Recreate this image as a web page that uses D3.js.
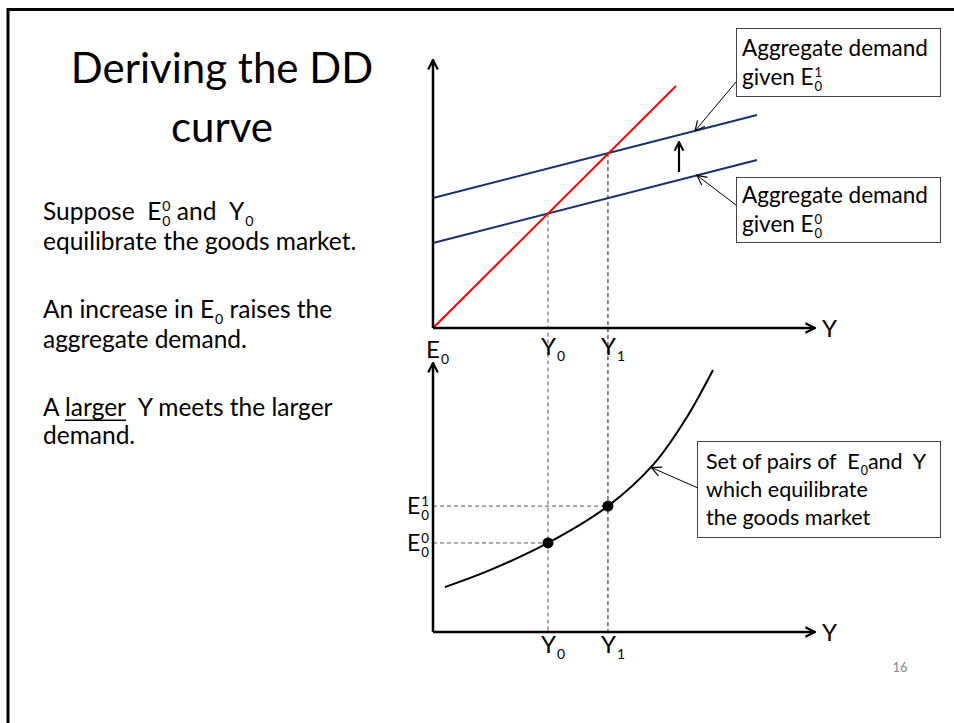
<!DOCTYPE html>
<html>
<head>
<meta charset="utf-8">
<script src="https://cdn.jsdelivr.net/npm/d3@7"></script>
<style>
  body { margin: 0; background: #fff; }
  svg text { font-family: Lato, "Open Sans", sans-serif; fill: #000; white-space: pre; }
</style>
</head>
<body>
<div id="slide"></div>
<script>
// values (axes run 0..100, arrow tips at 100)
const incomeLevels = [30.1, 45.8];            // Y0, Y1
const incomeSubs = ["0", "1"];
const rateLevels = [33.1, 46.8];              // E0^0, E0^1 (bottom panel)
const rateSups = ["0", "1"];
const line45 = [[0, 0], [63.6, 90.3]];
const adLow = [[0, 31.7], [84.8, 62.7]];      // given E0^0
const adHigh = [[0, 48.5], [84.8, 79.5]];     // given E0^1
const ddCurve = [[3.1, 16.7], [14.9, 23.0], [30.1, 33.1], [45.8, 46.8], [57.6, 62.1], [66.0, 78.8], [73.3, 97.4]];
const shiftArrow = { x: 64.4, from: 58.2, to: 69.4 };

const width = 954, height = 723;
const svg = d3.select("#slide").append("svg")
    .attr("width", width)
    .attr("height", height);

const defs = svg.append("defs");
function marker(id, size, sw) {
    defs.append("marker")
        .attr("id", id)
        .attr("viewBox", "0 0 10 10")
        .attr("refX", 9).attr("refY", 5)
        .attr("markerWidth", size).attr("markerHeight", size)
        .attr("markerUnits", "userSpaceOnUse")
        .attr("orient", "auto")
        .append("path")
        .attr("d", "M1,1 L9,5 L1,9")
        .attr("fill", "none")
        .attr("stroke", "#000")
        .attr("stroke-width", sw);
}
marker("axisHead", 12, 1.8);
marker("thinHead", 12, 1);
marker("upHead", 11, 1.8);

// slide frame (only top and left edges fall inside the window)
svg.append("path")
    .attr("d", "M8,730 V9.5 H960")
    .attr("fill", "none")
    .attr("stroke", "#000")
    .attr("stroke-width", 3);

// helper for text with stacked sub/superscripts
function rich(g, x, y, segs, fs, anchor) {
    const grp = g.append("g");
    let cx = 0;
    segs.forEach(function (s) {
        const b = grp.append("text").attr("x", cx).attr("y", 0)
            .style("font-size", fs + "px").text(s.t);
        const bw = b.node().getComputedTextLength();
        if (s.u) {
            grp.append("line").attr("x1", cx).attr("x2", cx + bw)
                .attr("y1", fs * 0.17).attr("y2", fs * 0.17)
                .attr("stroke", "#000").attr("stroke-width", 1.5);
        }
        cx += bw;
        let w = 0;
        if (s.sub != null) {
            const sb = grp.append("text").attr("x", cx + 1).attr("y", fs * 0.26)
                .style("font-size", (fs * 0.58) + "px").text(s.sub);
            w = Math.max(w, sb.node().getComputedTextLength() + 1);
        }
        if (s.sup != null) {
            const sp = grp.append("text").attr("x", cx + 1).attr("y", -fs * 0.36)
                .style("font-size", (fs * 0.58) + "px").text(s.sup);
            w = Math.max(w, sp.node().getComputedTextLength() + 1);
        }
        cx += w;
    });
    let dx = 0;
    if (anchor === "middle") dx = -cx / 2;
    if (anchor === "end") dx = -cx;
    grp.attr("transform", "translate(" + (x + dx) + "," + y + ")");
    return grp;
}

// ---- left column text ----
const titleFs = 42;
svg.append("text").attr("x", 222).attr("y", 83).attr("text-anchor", "middle")
    .style("font-size", titleFs + "px").text("Deriving the DD");
svg.append("text").attr("x", 222).attr("y", 142).attr("text-anchor", "middle")
    .style("font-size", titleFs + "px").text("curve");

const bodyFs = 24.5;
rich(svg, 43, 220, [{ t: "Suppose  " }, { t: "E", sub: "0", sup: "0" }, { t: " and  " }, { t: "Y", sub: "0" }], bodyFs);
rich(svg, 43, 250, [{ t: "equilibrate the goods market." }], bodyFs);
rich(svg, 43, 318, [{ t: "An increase in " }, { t: "E", sub: "0" }, { t: " raises the" }], bodyFs);
rich(svg, 43, 348, [{ t: "aggregate demand." }], bodyFs);
rich(svg, 43, 416, [{ t: "A " }, { t: "larger", u: true }, { t: "  Y meets the larger" }], bodyFs);
rich(svg, 43, 444, [{ t: "demand." }], bodyFs);

// ---- scales ----
const x = d3.scaleLinear().domain([0, 100]).range([433, 815]);
const yTop = d3.scaleLinear().domain([0, 100]).range([328, 60]);
const yBot = d3.scaleLinear().domain([0, 100]).range([632, 363]);

function axes(y) {
    svg.append("line")
        .attr("x1", x(0)).attr("y1", y(0)).attr("x2", x(0)).attr("y2", y(100))
        .attr("stroke", "#000").attr("stroke-width", 2.5)
        .attr("marker-end", "url(#axisHead)");
    svg.append("line")
        .attr("x1", x(0)).attr("y1", y(0)).attr("x2", x(100)).attr("y2", y(0))
        .attr("stroke", "#000").attr("stroke-width", 2.5)
        .attr("marker-end", "url(#axisHead)");
    svg.append("text").attr("x", x(100) + 7).attr("y", y(0) + 9)
        .style("font-size", "24px").text("Y");
}

// intersections of the 45 degree line with the AD lines, at Y0 and Y1
function at(line, v) {
    const a = line[0], b = line[1];
    return a[1] + (b[1] - a[1]) * (v - a[0]) / (b[0] - a[0]);
}
const adLines = [adLow, adHigh];

// dashed guides from the top intersections all the way to the bottom axis
incomeLevels.forEach(function (v, i) {
    svg.append("line")
        .attr("x1", x(v)).attr("x2", x(v))
        .attr("y1", yTop(at(adLines[i], v))).attr("y2", yBot(0))
        .attr("stroke", i === 0 ? "#555" : "#111")
        .attr("stroke-width", 1)
        .attr("stroke-dasharray", "4,3");
});
rateLevels.forEach(function (v, i) {
    svg.append("line")
        .attr("x1", x(0)).attr("x2", x(incomeLevels[i]))
        .attr("y1", yBot(v)).attr("y2", yBot(v))
        .attr("stroke", "#555")
        .attr("stroke-width", 1)
        .attr("stroke-dasharray", "4,3");
});

// ---- top panel ----
const line = d3.line().x(d => x(d[0])).y(d => yTop(d[1]));
svg.append("path").attr("d", line(adLow)).attr("fill", "none")
    .attr("stroke", "#17306b").attr("stroke-width", 2);
svg.append("path").attr("d", line(adHigh)).attr("fill", "none")
    .attr("stroke", "#17306b").attr("stroke-width", 2);
svg.append("path").attr("d", line(line45)).attr("fill", "none")
    .attr("stroke", "#ff0000").attr("stroke-width", 2);
axes(yTop);

svg.append("line")
    .attr("x1", x(shiftArrow.x)).attr("x2", x(shiftArrow.x))
    .attr("y1", yTop(shiftArrow.from)).attr("y2", yTop(shiftArrow.to))
    .attr("stroke", "#000").attr("stroke-width", 2.2)
    .attr("marker-end", "url(#upHead)");

rich(svg, 426, 358, [{ t: "E", sub: "0" }], 24);
incomeLevels.forEach(function (v, i) {
    rich(svg, x(v) - 7, 355, [{ t: "Y", sub: incomeSubs[i] }], 24);
});

// callout boxes
function box(x0, y0, w, h) {
    svg.append("rect").attr("x", x0).attr("y", y0).attr("width", w).attr("height", h)
        .attr("fill", "#fff").attr("stroke", "#444").attr("stroke-width", 1);
}
const boxFs = 22.5;
box(736.5, 28.5, 204, 68);
rich(svg, 742, 56, [{ t: "Aggregate demand" }], boxFs);
rich(svg, 742, 85, [{ t: "given " }, { t: "E", sub: "0", sup: "1" }], boxFs);
svg.append("line").attr("x1", 736).attr("y1", 82)
    .attr("x2", x(68.6)).attr("y2", yTop(at(adHigh, 68.6)))
    .attr("stroke", "#000").attr("stroke-width", 1).attr("marker-end", "url(#thinHead)");

box(736.5, 177.5, 204, 65);
rich(svg, 742, 203, [{ t: "Aggregate demand" }], boxFs);
rich(svg, 742, 232, [{ t: "given " }, { t: "E", sub: "0", sup: "0" }], boxFs);
svg.append("line").attr("x1", 736).attr("y1", 205)
    .attr("x2", x(69.1)).attr("y2", yTop(at(adLow, 69.1)))
    .attr("stroke", "#000").attr("stroke-width", 1).attr("marker-end", "url(#thinHead)");

// ---- bottom panel ----
const curve = d3.line().x(d => x(d[0])).y(d => yBot(d[1])).curve(d3.curveCatmullRom.alpha(0.5));
svg.append("path").attr("d", curve(ddCurve)).attr("fill", "none")
    .attr("stroke", "#000").attr("stroke-width", 2);
axes(yBot);

svg.selectAll("circle.pt").data(incomeLevels).enter().append("circle")
    .attr("class", "pt")
    .attr("cx", d => x(d))
    .attr("cy", (d, i) => yBot(rateLevels[i]))
    .attr("r", 5.5)
    .attr("fill", "#000");

incomeLevels.forEach(function (v, i) {
    rich(svg, x(v) - 7, 653, [{ t: "Y", sub: incomeSubs[i] }], 24);
});
rateLevels.forEach(function (v, i) {
    rich(svg, 407, yBot(v) + 8, [{ t: "E", sub: "0", sup: rateSups[i] }], 23);
});

const noteFs = 21.5;
box(697.5, 441.5, 243, 96);
rich(svg, 706, 469, [{ t: "Set of pairs of  " }, { t: "E", sub: "0" }, { t: "and  Y" }], noteFs);
rich(svg, 706, 497, [{ t: "which equilibrate" }], noteFs);
rich(svg, 706, 525, [{ t: "the goods market" }], noteFs);
svg.append("line").attr("x1", 698).attr("y1", 488)
    .attr("x2", x(57.2)).attr("y2", yBot(61.5) + 1)
    .attr("stroke", "#000").attr("stroke-width", 1).attr("marker-end", "url(#thinHead)");

// page number
svg.append("text").attr("x", 900).attr("y", 672).attr("text-anchor", "middle")
    .style("font-size", "13px").style("fill", "#888").text("16");
</script>
</body>
</html>
